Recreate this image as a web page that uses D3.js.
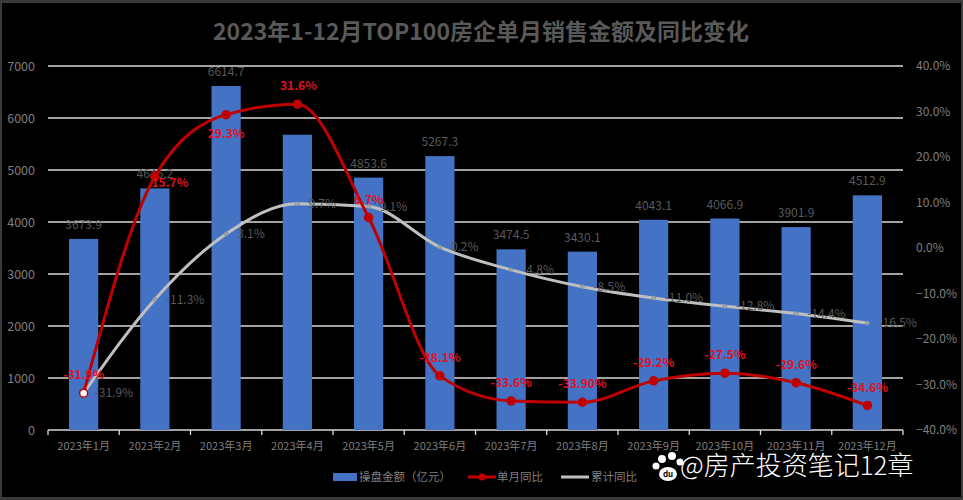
<!DOCTYPE html>
<html><head><meta charset="utf-8">
<script src="https://cdn.jsdelivr.net/npm/d3@7"></script>
<style>
html,body{margin:0;padding:0;background:#3a3a3a;}
svg{display:block;font-family:"Noto Sans CJK SC","Noto Sans",sans-serif;}
</style></head>
<body>
<svg id="c" width="963" height="500"></svg>
<script>
const title = "2023年1-12月TOP100房企单月销售金额及同比变化";
const months = ["2023年1月","2023年2月","2023年3月","2023年4月","2023年5月","2023年6月","2023年7月","2023年8月","2023年9月","2023年10月","2023年11月","2023年12月"];
const sales = [3673.9, 4646.2, 6614.7, 5678.6, 4853.6, 5267.3, 3474.5, 3430.1, 4043.1, 4066.9, 3901.9, 4512.9];
const salesLabels = ["3673.9","4646.2","6614.7","","4853.6","5267.3","3474.5","3430.1","4043.1","4066.9","3901.9","4512.9"];
const monthYoY = [-0.319, 0.157, 0.293, 0.316, 0.067, -0.281, -0.336, -0.339, -0.292, -0.275, -0.296, -0.346];
const monthYoYLabels = ["-31.9%","15.7%","29.3%","31.6%","6.7%","-28.1%","-33.6%","-33.90%","-29.2%","-27.5%","-29.6%","-34.6%"];
const cumYoY = [-0.319, -0.113, 0.031, 0.097, 0.091, 0.002, -0.048, -0.085, -0.110, -0.128, -0.144, -0.165];
const cumYoYLabels = ["-31.9%","-11.3%","3.1%","9.7%","9.1%","0.2%","-4.8%","-8.5%","-11.0%","-12.8%","-14.4%","-16.5%"];
const leftTicks = [0,1000,2000,3000,4000,5000,6000,7000];
const rightTicks = [-0.4,-0.3,-0.2,-0.1,0,0.1,0.2,0.3,0.4];
const legendNames = ["操盘金额（亿元）","单月同比","累计同比"];
const watermark = "@房产投资笔记12章";

const svg = d3.select("#c");
const W = 963, H = 500;
const L = 48, R = 903, T = 66, B = 430;

svg.append("rect").attr("x",2).attr("y",3).attr("width",W-4).attr("height",H-6).attr("fill","#000");

const x = d3.scaleBand().domain(months).range([L,R]).paddingInner(0.59).paddingOuter(0.295);
const yL = d3.scaleLinear().domain([0,7000]).range([B,T]);
const yR = d3.scaleLinear().domain([-0.4,0.4]).range([B,T]);
const cx = d => x(d) + x.bandwidth()/2;

// title
svg.append("text").attr("x",481).attr("y",40).attr("text-anchor","middle")
  .attr("font-size",23).attr("font-weight","bold").attr("fill","#595959").text(title);

// gridlines
svg.append("g").selectAll("line").data(leftTicks).join("line")
  .attr("x1",L).attr("x2",R).attr("y1",d=>yL(d)).attr("y2",d=>yL(d))
  .attr("stroke","#d9d9d9").attr("stroke-width",1.6);

// x tick marks at boundaries
const bounds = months.map(m => x(m) - (x.step()-x.bandwidth())/2).concat([R]);
svg.append("g").selectAll("line").data(bounds).join("line")
  .attr("x1",d=>d).attr("x2",d=>d).attr("y1",B).attr("y2",B+5)
  .attr("stroke","#d9d9d9").attr("stroke-width",1.3);

// left axis
const gl = svg.append("g").attr("transform",`translate(${L-10},0)`)
  .call(d3.axisLeft(yL).tickValues(leftTicks).tickSize(0).tickFormat(d3.format("d")));
gl.select(".domain").remove();
gl.selectAll("text").attr("fill","#7f7f7f").attr("font-size",12.5).attr("font-family","'Noto Sans CJK SC',sans-serif");

// right axis
const gr = svg.append("g").attr("transform",`translate(${R+10},0)`)
  .call(d3.axisRight(yR).tickValues(rightTicks).tickSize(0).tickFormat(d3.format(".1%")));
gr.select(".domain").remove();
gr.selectAll("text").attr("fill","#7f7f7f").attr("font-size",12).attr("font-family","'Noto Sans CJK SC',sans-serif");

// x axis labels
const gx = svg.append("g").attr("transform",`translate(0,${B+10})`)
  .call(d3.axisBottom(x).tickSize(0));
gx.select(".domain").remove();
gx.selectAll("text").attr("fill","#7f7f7f").attr("font-size",11).attr("dy","0.6em").attr("font-family","'Noto Sans CJK SC',sans-serif");

// bars
svg.append("g").selectAll("rect").data(sales).join("rect")
  .attr("x",(d,i)=>x(months[i])).attr("width",x.bandwidth())
  .attr("y",d=>yL(d)).attr("height",d=>B-yL(d)).attr("fill","#4472c4");
svg.append("g").selectAll("text").data(sales).join("text")
  .attr("x",(d,i)=>cx(months[i])).attr("y",d=>yL(d)-10)
  .attr("text-anchor","middle").attr("font-size",12).attr("fill","#595959")
  .text((d,i)=>salesLabels[i]);

// cumulative line
const curve = d3.curveMonotoneX;
const lineC = d3.line().x((d,i)=>cx(months[i])).y(d=>yR(d)).curve(curve);
svg.append("path").datum(cumYoY).attr("d",lineC).attr("fill","none")
  .attr("stroke","#bfbfbf").attr("stroke-width",3);
svg.append("g").selectAll("circle").data(cumYoY).join("circle")
  .attr("cx",(d,i)=>cx(months[i])).attr("cy",d=>yR(d)).attr("r",2)
  .attr("fill","#a6a6a6").attr("stroke","#7f8fa6").attr("stroke-width",0.8);
svg.append("g").selectAll("text").data(cumYoY).join("text")
  .attr("x",(d,i)=>cx(months[i])+11).attr("y",d=>yR(d)).attr("dy","0.35em")
  .attr("font-size",12).attr("fill","#595959").text((d,i)=>cumYoYLabels[i]);

// monthly line
const lineM = d3.line().x((d,i)=>cx(months[i])).y(d=>yR(d)).curve(curve);
svg.append("path").datum(monthYoY).attr("d",lineM).attr("fill","none")
  .attr("stroke","#c00000").attr("stroke-width",3);
svg.append("g").selectAll("circle").data(monthYoY).join("circle")
  .attr("cx",(d,i)=>cx(months[i])).attr("cy",d=>yR(d)).attr("r",4)
  .attr("fill",(d,i)=>i===0?"#fff":"#c00000").attr("stroke","#c00000").attr("stroke-width",1.5);
// label placement: below for Feb, Mar; above otherwise
const below = new Set([1,2]);
svg.append("g").selectAll("text").data(monthYoY).join("text")
  .attr("x",(d,i)=>cx(months[i]) + (i===1?15:(i===3?1:0)))
  .attr("y",(d,i)=>yR(d) + (i===1?6:(below.has(i)?19:-18))).attr("dy","0.35em")
  .attr("text-anchor","middle").attr("font-size",12).attr("font-weight","bold")
  .attr("fill","#e0101e").text((d,i)=>monthYoYLabels[i]);

// legend
const lg = svg.append("g").attr("font-size",11.5).attr("fill","#7f7f7f");
lg.append("rect").attr("x",333).attr("y",473).attr("width",24).attr("height",8).attr("fill","#4472c4");
lg.append("text").attr("x",359).attr("y",477).attr("dy","0.35em").attr("fill","#7f7f7f").text(legendNames[0]);
lg.append("line").attr("x1",468).attr("x2",496).attr("y1",477).attr("y2",477).attr("stroke","#c00000").attr("stroke-width",3);
lg.append("circle").attr("cx",482).attr("cy",477).attr("r",3.5).attr("fill","#c00000");
lg.append("text").attr("x",497).attr("y",477).attr("dy","0.35em").attr("fill","#7f7f7f").text(legendNames[1]);
lg.append("line").attr("x1",561).attr("x2",589).attr("y1",477).attr("y2",477).attr("stroke","#bfbfbf").attr("stroke-width",3);
lg.append("text").attr("x",591).attr("y",477).attr("dy","0.35em").attr("fill","#7f7f7f").text(legendNames[2]);

// watermark
const wm = svg.append("g");
const paw = [[662,459,4],[672,456,4],[680,462,3.5],[656,466,3.5]];
wm.selectAll("circle").data(paw).join("circle").attr("cx",d=>d[0]).attr("cy",d=>d[1]).attr("r",d=>d[2]).attr("fill","#fff");
wm.append("ellipse").attr("cx",668).attr("cy",474).attr("rx",9).attr("ry",7).attr("fill","#fff");
wm.append("text").attr("x",668).attr("y",477).attr("text-anchor","middle").attr("font-size",8).attr("font-weight","bold").attr("fill","#000").text("du");
wm.append("text").attr("x",680).attr("y",475).attr("font-size",26).attr("fill","#fff")
  .attr("font-family","'Noto Sans CJK SC',sans-serif").attr("font-weight",300).text(watermark);
</script>
</body></html>
